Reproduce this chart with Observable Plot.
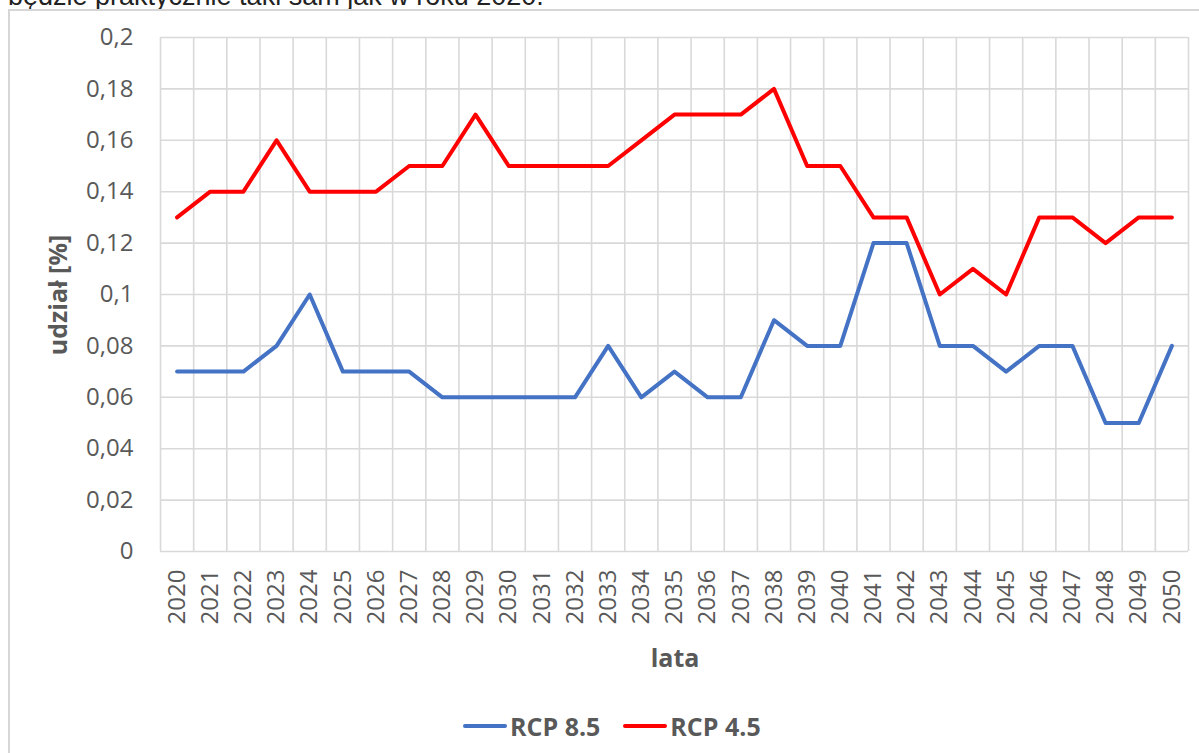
<!DOCTYPE html>
<html>
<head>
<meta charset="utf-8">
<script src="https://cdn.jsdelivr.net/npm/d3@7"></script>
<script src="https://cdn.jsdelivr.net/npm/@observablehq/plot@0.6"></script>
<style>
  html, body { margin: 0; padding: 0; background: #fff; overflow: hidden; }
  #wrap { position: relative; width: 1199px; height: 753px; overflow: hidden; }
  #toptext { position: absolute; left: 8px; top: -17px; font: 27px "Liberation Sans", Arial, sans-serif; line-height: 27px; color: #222; white-space: nowrap; }
  #frame { position: absolute; left: 8px; top: 9px; width: 1300px; height: 900px; border: 2px solid #d6d6d6; box-sizing: border-box; background: #fff; }
  #chart { position: absolute; left: 0; top: 0; }
  .title { position: absolute; font-family: "Open Sans", sans-serif; font-weight: bold; font-size: 25px; color: #595959; white-space: nowrap; }
  #ytitle { left: 57px; top: 295px; transform: translate(-50%, -50%) rotate(-90deg); }
  #xtitle { left: 675px; top: 657px; transform: translate(-50%, -50%); }
  #legend { position: absolute; left: 463px; top: 726px; transform: translateY(-50%); display: flex; align-items: center; font-family: "Open Sans", sans-serif; font-weight: bold; font-size: 25px; color: #595959; white-space: nowrap; }
  .sw { display: inline-block; width: 44px; height: 4px; border-radius: 2px; margin-right: 3px; }
  .item { display: flex; align-items: center; margin-right: 23px; }
</style>
</head>
<body>
<div id="wrap">
  <div id="toptext">będzie praktycznie taki sam jak w roku 2020.</div>
  <div id="frame"></div>
  <div id="chart"></div>
  <div class="title" id="ytitle">udział [%]</div>
  <div class="title" id="xtitle">lata</div>
  <div id="legend"></div>
</div>
<script>
const years = [2020,2021,2022,2023,2024,2025,2026,2027,2028,2029,2030,2031,2032,2033,2034,2035,2036,2037,2038,2039,2040,2041,2042,2043,2044,2045,2046,2047,2048,2049,2050];
const rcp85 = [0.07,0.07,0.07,0.08,0.10,0.07,0.07,0.07,0.06,0.06,0.06,0.06,0.06,0.08,0.06,0.07,0.06,0.06,0.09,0.08,0.08,0.12,0.12,0.08,0.08,0.07,0.08,0.08,0.05,0.05,0.08];
const rcp45 = [0.13,0.14,0.14,0.16,0.14,0.14,0.14,0.15,0.15,0.17,0.15,0.15,0.15,0.15,0.16,0.17,0.17,0.17,0.18,0.15,0.15,0.13,0.13,0.10,0.11,0.10,0.13,0.13,0.12,0.13,0.13];
const yTicks = [0,0.02,0.04,0.06,0.08,0.1,0.12,0.14,0.16,0.18,0.2];
const seriesNames = ["RCP 8.5", "RCP 4.5"];
const seriesColors = ["#4472C4", "#FF0000"];

const data = [];
years.forEach((y, i) => {
  data.push({year: y, value: rcp85[i], series: seriesNames[0]});
  data.push({year: y, value: rcp45[i], series: seriesNames[1]});
});
const boundaries = years.map(y => y - 0.5).concat([years[years.length - 1] + 0.5]);
const fmt = d => String(+d.toFixed(2)).replace(".", ",");

const chart = Plot.plot({
  width: 1199,
  height: 753,
  marginLeft: 160,
  marginRight: 11,
  marginTop: 37,
  marginBottom: 202,
  style: { fontFamily: "Open Sans, sans-serif", color: "#595959", background: "transparent", overflow: "visible" },
  x: { type: "linear", domain: [boundaries[0], boundaries[boundaries.length - 1]] },
  y: { domain: [0, 0.2] },
  color: { domain: seriesNames, range: seriesColors },
  marks: [
    Plot.ruleY(yTicks, { stroke: "#d9d9d9", strokeWidth: 1.6 }),
    Plot.ruleX(boundaries, { stroke: "#d9d9d9", strokeWidth: 1.6 }),
    Plot.axisY(yTicks, { tickFormat: fmt, tickSize: 0, tickPadding: 27, fontSize: 24, label: null, fill: "#595959" }),
    Plot.axisX(years, { tickFormat: d => String(d), tickSize: 0, tickPadding: 18, tickRotate: -90, fontSize: 24, label: null, fill: "#595959" }),
    Plot.line(data, { x: "year", y: "value", z: "series", stroke: "series", strokeWidth: 4, strokeLinejoin: "round", strokeLinecap: "round" })
  ]
});
document.getElementById("chart").appendChild(chart);

const legend = document.getElementById("legend");
seriesNames.forEach((name, i) => {
  const item = document.createElement("div");
  item.className = "item";
  const sw = document.createElement("span");
  sw.className = "sw";
  sw.style.background = seriesColors[i];
  item.appendChild(sw);
  const t = document.createElement("span");
  t.textContent = name;
  item.appendChild(t);
  legend.appendChild(item);
});
</script>
</body>
</html>
